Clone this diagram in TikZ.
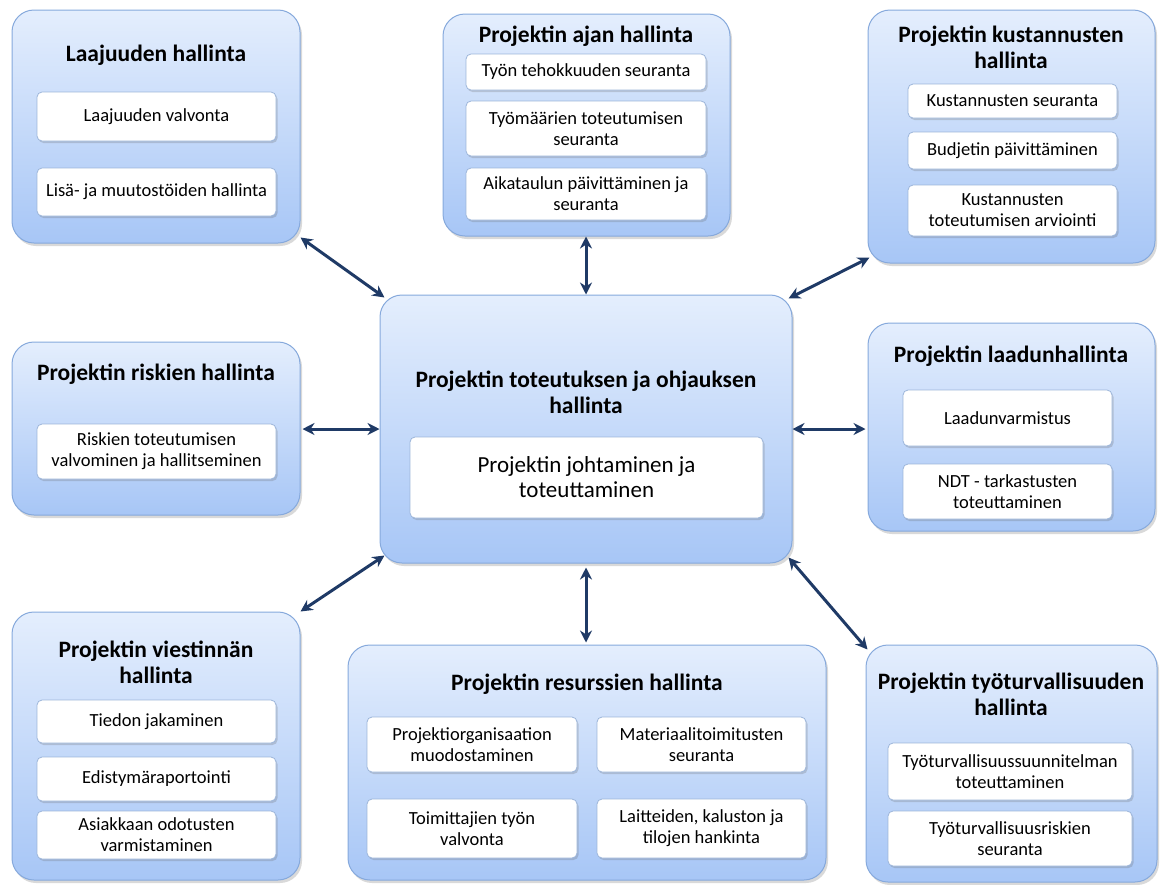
\documentclass[tikz,border=0pt]{standalone}
\usepackage{fontspec}
\setmainfont{Carlito}
\usetikzlibrary{arrows.meta,shadows}
\definecolor{boxtop}{HTML}{E4EEFD}
\definecolor{boxbot}{HTML}{A7C6F6}
\definecolor{boxline}{HTML}{86A9DC}
\definecolor{subline}{HTML}{9DB6DA}
\definecolor{arrowc}{HTML}{1F3A66}
\newcommand\rbox[7]{\node[#1, minimum width={(#5-#3)*1pt}, minimum height={(#6-#4)*1pt}] (#2) at ({(#3+#5)/2},{(#4+#6)/2}) {#7};}
\tikzset{
  bigbox/.style={draw=boxline, line width=1pt, rounded corners=22pt, top color=boxtop, bottom color=boxbot, inner sep=0pt,
    drop shadow={shadow xshift=2pt, shadow yshift=-3pt, opacity=0.25, fill=black!60}},
  subbox/.style={draw=subline, line width=0.8pt, rounded corners=5pt, fill=white, align=center, inner sep=2pt,
    font=\fontsize{18.5}{21}\selectfont,
    drop shadow={shadow xshift=1.5pt, shadow yshift=-2pt, opacity=0.25, fill=black!60}},
  title/.style={align=center, font=\fontsize{23.5}{26}\selectfont\bfseries, inner sep=0pt},
  link/.style={{Stealth[length=12pt,width=12pt]}-{Stealth[length=12pt,width=12pt]}, line width=3pt, draw=arrowc}
}
\begin{document}
\begin{tikzpicture}[x=1pt,y=-1pt]
\useasboundingbox (0,0) rectangle (1162,884);
% big boxes
\rbox{bigbox}{laaj}{12}{10}{300}{243}{}
\rbox{bigbox}{ajan}{443}{14}{730}{236}{}
\rbox{bigbox}{kust}{868}{10}{1155}{263}{}
\rbox{bigbox}{risk}{12}{342}{300}{515}{}
\rbox{bigbox}{cent}{380}{295}{792}{563}{}
\rbox{bigbox}{laad}{868}{323}{1155}{531}{}
\rbox{bigbox}{vies}{12}{612}{300}{880}{}
\rbox{bigbox}{resu}{348}{645}{826}{880}{}
\rbox{bigbox}{tyot}{866}{645}{1157}{882}{}
% titles
\node[title] (laajT) at (156,55) {Laajuuden hallinta};
\node[title] (ajanT) at (586,36) {Projektin ajan hallinta};
\node[title] (kustT) at (1011,47) {Projektin kustannusten\\hallinta};
\node[title] (riskT) at (156,374) {Projektin riskien hallinta};
\node[title] (centT) at (586,392) {Projektin toteutuksen ja ohjauksen\\hallinta};
\node[title] (laadT) at (1011,356) {Projektin laadunhallinta};
\node[title] (viesT) at (156,662) {Projektin viestinnän\\hallinta};
\node[title] (resuT) at (587,684) {Projektin resurssien hallinta};
\node[title] (tyotT) at (1011,694) {Projektin työturvallisuuden\\hallinta};
% sub boxes
\rbox{subbox}{laaj1}{37}{92}{276}{141}{Laajuuden valvonta}
\rbox{subbox}{laaj2}{37}{168}{276}{216}{Lisä- ja muutostöiden hallinta}
\rbox{subbox}{ajan1}{466}{54}{706}{90}{Työn tehokkuuden seuranta}
\rbox{subbox}{ajan2}{466}{101}{706}{156}{Työmäärien toteutumisen\\seuranta}
\rbox{subbox}{ajan3}{466}{168}{706}{220}{Aikataulun päivittäminen ja\\seuranta}
\rbox{subbox}{kust1}{908}{84}{1117}{118}{Kustannusten seuranta}
\rbox{subbox}{kust2}{908}{132}{1117}{169}{Budjetin päivittäminen}
\rbox{subbox}{kust3}{908}{185}{1117}{236}{Kustannusten\\toteutumisen arviointi}
\rbox{subbox}{risk1}{37}{424}{276}{479}{Riskien toteutumisen\\valvominen ja hallitseminen}
\rbox{subbox, font=\fontsize{23}{25}\selectfont}{cent1}{410}{437}{763}{518}{Projektin johtaminen ja\\toteuttaminen}
\rbox{subbox}{laad1}{903}{390}{1112}{446}{Laadunvarmistus}
\rbox{subbox}{laad2}{903}{464}{1112}{519}{NDT - tarkastusten\\toteuttaminen}
\rbox{subbox}{vies1}{37}{700}{276}{743}{Tiedon jakaminen}
\rbox{subbox}{vies2}{37}{757}{276}{801}{Edistymäraportointi}
\rbox{subbox}{vies3}{37}{811}{276}{859}{Asiakkaan odotusten\\varmistaminen}
\rbox{subbox}{resu1}{367}{717}{577}{772}{Projektiorganisaation\\muodostaminen}
\rbox{subbox}{resu2}{597}{717}{806}{772}{Materiaalitoimitusten\\seuranta}
\rbox{subbox}{resu3}{367}{799}{577}{858}{Toimittajien työn\\valvonta}
\rbox{subbox}{resu4}{597}{799}{806}{858}{Laitteiden, kaluston ja\\tilojen hankinta}
\rbox{subbox}{tyot1}{888}{743}{1132}{800}{Työturvallisuussuunnitelman\\toteuttaminen}
\rbox{subbox}{tyot2}{888}{811}{1132}{866}{Työturvallisuusriskien\\seuranta}
% connectors
\draw[link] ([shift={(0,-6)}]laaj.south east) -- ([shift={(5,3)}]cent.north west);
\draw[link] (ajan.south -| cent.north) -- (cent.north);
\draw[link] ([shift={(2,-6)}]kust.south west) -- ([shift={(-4,4)}]cent.north east);
\draw[link] ([shift={(2,0)}]risk.east |- cent.west) -- (cent.west);
\draw[link] (cent.east) -- ([shift={(-2,0)}]laad.west |- cent.east);
\draw[link] (vies.north east) -- ([shift={(5,-8)}]cent.south west);
\draw[link] ([shift={(0,4)}]cent.south) -- ([shift={(0,-2)}]resu.north -| cent.south);
\draw[link] ([shift={(-4,-6)}]cent.south east) -- ([shift={(2,5)}]tyot.north west);
\end{tikzpicture}
\end{document}
